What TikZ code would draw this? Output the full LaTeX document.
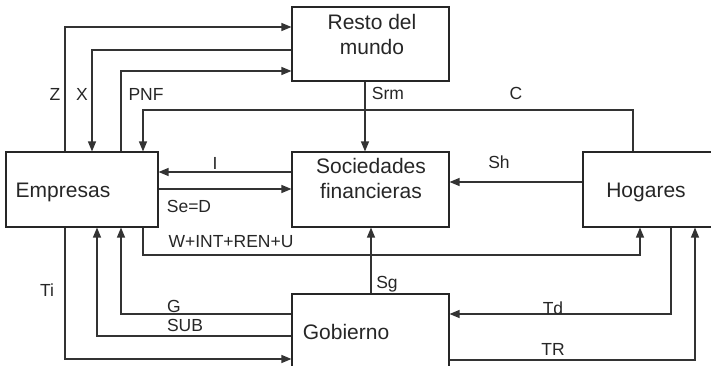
\documentclass[tikz,border=0pt]{standalone}
\usepackage{fontspec}
\setmainfont{Liberation Sans}
\usetikzlibrary{arrows.meta}
\begin{document}
\begin{tikzpicture}[x=1pt,y=-1pt,
  box/.style={draw=black!85,line width=1.1pt,rectangle,inner sep=0pt},
  boxtxt/.style={font=\fontsize{21}{25}\selectfont,text=black!85,align=center,inner sep=0pt},
  lbl/.style={font=\fontsize{17.5}{20}\selectfont,text=black!85,inner sep=0pt},
  arr/.style={draw=black!80,line width=1.2pt,-{Triangle[length=10pt,width=8pt]}},
  ln/.style={draw=black!80,line width=1.2pt}]
\useasboundingbox (0,0) rectangle (711,366);
% boxes
\node[box,minimum width=157pt,minimum height=74pt] (rm) at (370.5,44) {};
\node[box,minimum width=157pt,minimum height=75pt] (soc) at (370.5,189.5) {};
\node[box,minimum width=152pt,minimum height=75pt] (emp) at (82,189.5) {};
\node[box,minimum width=147pt,minimum height=75pt] (hog) at (656.5,189.5) {};
\node[box,minimum width=157pt,minimum height=81pt] (gob) at (370.5,334.5) {};
% box texts
\node[boxtxt] (rmt) at (372,34) {Resto del\\mundo};
\node[boxtxt] (soct) at (371,178) {Sociedades\\financieras};
\node[boxtxt] (empt) at (63,192) {Empresas};
\node[boxtxt] (hogt) at (646,192) {Hogares};
\node[boxtxt] (gobt) at (346,332) {Gobierno};
% connectors
\draw[arr] (65,0 |- emp.north) |- (0,27 -| rm.west);
\draw[arr] (0,50 -| rm.west) -| (92,0 |- emp.north);
\draw[arr] (121,0 |- emp.north) |- (0,71 -| rm.west);
\draw[arr] (633,0 |- hog.north) -- (633,110) -| (143,0 |- emp.north);
\draw[arr] (365,0 |- rm.south) -- (365,0 |- soc.north);
\draw[arr] (0,172 -| soc.west) -- (0,172 -| emp.east);
\draw[arr] (0,189 -| emp.east) -- (0,189 -| soc.west);
\draw[arr] (0,182 -| hog.west) -- (0,182 -| soc.east);
\draw[arr] (143,0 |- emp.south) -- (143,255) -| (640,0 |- hog.south);
\draw[arr] (371,0 |- gob.north) -- (371,0 |- soc.south);
\draw[arr] (0,314 -| gob.west) -| (121,0 |- emp.south);
\draw[arr] (0,336 -| gob.west) -| (97,0 |- emp.south);
\draw[arr] (65,0 |- emp.south) |- (0,359 -| gob.west);
\draw[arr] (671,0 |- hog.south) |- (0,314 -| gob.east);
\draw[arr] (0,360 -| gob.east) -| (695,0 |- hog.south);
% labels
\node[lbl] (lz) at (55,94) {Z};
\node[lbl] (lx) at (82,94) {X};
\node[lbl] (lpnf) at (146,94) {PNF};
\node[lbl] (lsrm) at (388,93) {Srm};
\node[lbl] (lc) at (516,93) {C};
\node[lbl] (li) at (215,163) {I};
\node[lbl] (lsh) at (499,162) {Sh};
\node[lbl] (lse) at (189,206) {Se=D};
\node[lbl] (lw) at (231,242) {W+INT+REN+U};
\node[lbl] (lti) at (47,290) {Ti};
\node[lbl] (lsg) at (387,284) {Sg};
\node[lbl] (lg) at (174,306) {G};
\node[lbl] (lsub) at (185,325) {SUB};
\node[lbl] (ltd) at (553,308) {Td};
\node[lbl] (ltr) at (553,349) {TR};
\end{tikzpicture}
\end{document}
